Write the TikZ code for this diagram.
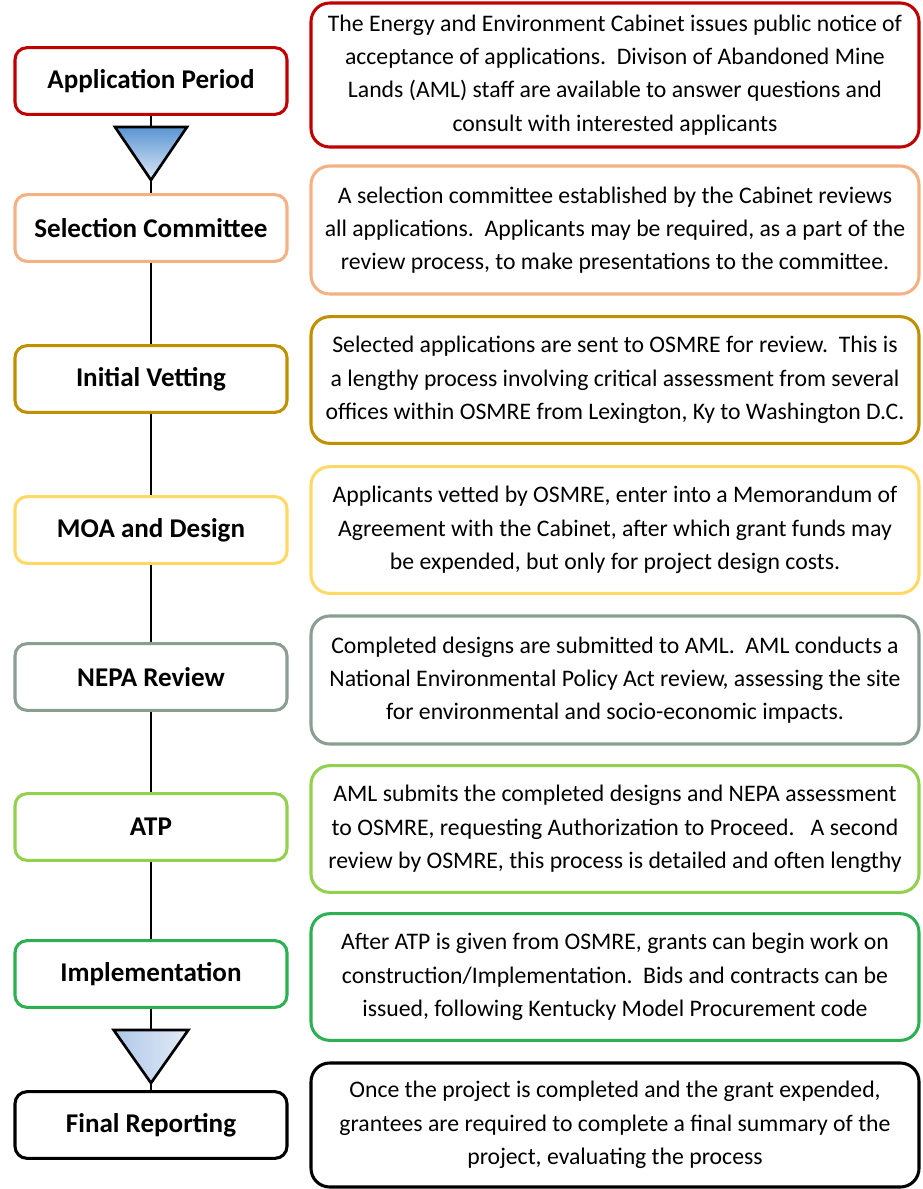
\documentclass[tikz,border=0pt]{standalone}
\usepackage{fontspec}
\setmainfont{Carlito}
\definecolor{c1}{HTML}{C00000}
\definecolor{c2}{HTML}{F4B183}
\definecolor{c3}{HTML}{BF9000}
\definecolor{c4}{HTML}{FFD966}
\definecolor{c5}{HTML}{8A9E92}
\definecolor{c6}{HTML}{92D050}
\definecolor{c7}{HTML}{2DB052}
\definecolor{c8}{HTML}{000000}
\definecolor{triA}{HTML}{5B95D3}
\definecolor{triB}{HTML}{DCE8F6}
\definecolor{triC}{HTML}{AEC7E8}
\definecolor{triD}{HTML}{E3ECF7}
\tikzset{
  stagebox/.style={draw=#1, line width=2.3pt, rounded corners=9pt, fill=white,
    minimum width=204pt, minimum height=50pt, align=center,
    font=\bfseries\fontsize{20.3}{24}\selectfont},
  descbox/.style={draw=#1, line width=2.3pt, rounded corners=14pt, fill=white,
    minimum width=456pt, align=center, inner sep=0pt,
    font=\fontsize{17.8}{25}\selectfont},
  flow/.style={line width=2.2pt, draw=black},
  tri/.style={line width=2pt, draw=black, line join=miter}
}
\begin{document}
\begin{tikzpicture}[x=0.75pt,y=-0.75pt]
\useasboundingbox (0,0) rectangle (923,1189);
% left stage boxes
\node[stagebox=c1] (ap) at (151,81) {Application Period};
\node[stagebox=c2] (sc) at (151,228) {Selection Committee};
\node[stagebox=c3] (iv) at (151,379) {Initial Vetting};
\node[stagebox=c4] (moa) at (151,530) {MOA and Design};
\node[stagebox=c5] (nepa) at (151,677) {NEPA Review};
\node[stagebox=c6] (atp) at (151,827) {ATP};
\node[stagebox=c7] (impl) at (151,974) {Implementation};
\node[stagebox=c8] (fr) at (151,1125) {Final Reporting};
% triangles
\coordinate (t1top) at (151,127);
\coordinate (t1tip) at (151,180);
\coordinate (t2top) at (151,1030);
\coordinate (t2tip) at (151,1083);
% connectors
\draw[flow] (ap.south) -- (t1top);
\draw[flow] (t1tip) -- (sc.north);
\draw[flow] (sc.south) -- (iv.north);
\draw[flow] (iv.south) -- (moa.north);
\draw[flow] (moa.south) -- (nepa.north);
\draw[flow] (nepa.south) -- (atp.north);
\draw[flow] (atp.south) -- (impl.north);
\draw[flow] (impl.south) -- (t2top);
\draw[flow] (t2tip) -- (fr.north);
\draw[tri, top color=triA, bottom color=triB] ([xshift=-27pt]t1top) -- ([xshift=27pt]t1top) -- (t1tip) -- cycle;
\draw[tri, left color=triC, right color=triD] ([xshift=-28pt]t2top) -- ([xshift=28pt]t2top) -- (t2tip) -- cycle;
% right description boxes
\node[descbox=c1, minimum height=108pt] (d1) at (615,75)
  {The Energy and Environment Cabinet issues public notice of\\acceptance of applications.\ \ Divison of Abandoned Mine\\Lands (AML) staff are available to answer questions and\\consult with interested applicants};
\node[descbox=c2, minimum height=96pt] (d2) at (615,230)
  {A selection committee established by the Cabinet reviews\\all applications.\ \ Applicants may be required, as a part of the\\review process, to make presentations to the committee.};
\node[descbox=c3, minimum height=95pt] (d3) at (615,380)
  {Selected applications are sent to OSMRE for review.\ \ This is\\a lengthy process involving critical assessment from several\\offices within OSMRE from Lexington, Ky to Washington D.C.};
\node[descbox=c4, minimum height=95pt] (d4) at (615,530)
  {Applicants vetted by OSMRE, enter into a Memorandum of\\Agreement with the Cabinet, after which grant funds may\\be expended, but only for project design costs.};
\node[descbox=c5, minimum height=96pt] (d5) at (615,680)
  {Completed designs are submitted to AML.\ \ AML conducts a\\National Environmental Policy Act review, assessing the site\\for environmental and socio-economic impacts.};
\node[descbox=c6, minimum height=95pt] (d6) at (615,829)
  {AML submits the completed designs and NEPA assessment\\to OSMRE, requesting Authorization to Proceed.\ \ \ A second\\review by OSMRE, this process is detailed and often lengthy};
\node[descbox=c7, minimum height=95pt] (d7) at (615,977)
  {After ATP is given from OSMRE, grants can begin work on\\construction/Implementation.\ \ Bids and contracts can be\\issued, following Kentucky Model Procurement code};
\node[descbox=c8, minimum height=93pt] (d8) at (615,1125)
  {Once the project is completed and the grant expended,\\grantees are required to complete a final summary of the\\project, evaluating the process};
\end{tikzpicture}
\end{document}
